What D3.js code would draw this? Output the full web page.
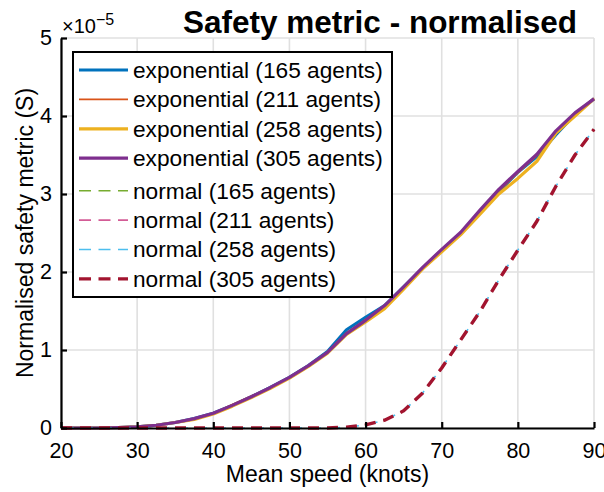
<!DOCTYPE html>
<html>
<head>
<meta charset="utf-8">
<script src="https://cdn.jsdelivr.net/npm/d3@7"></script>
<style>
  body { margin: 0; background: #fff; }
  text { font-family: "Liberation Sans", Arial, Helvetica, sans-serif; fill: #000; }
</style>
</head>
<body>
<div id="chart"></div>
<script>
const speeds = [20, 22.5, 25, 27.5, 30, 32.5, 35, 37.5, 40, 42.5, 45, 47.5, 50, 52.5, 55, 57.5, 60, 62.5, 65, 67.5, 70, 72.5, 75, 77.5, 80, 82.5, 85, 87.5, 90];

// values in units of 1e-5
const exp165 = [0, 0, 0, 0.005, 0.015, 0.035, 0.07, 0.12, 0.19, 0.29, 0.40, 0.52, 0.65, 0.80, 0.98, 1.26, 1.42, 1.57, 1.81, 2.05, 2.28, 2.49, 2.76, 3.03, 3.28, 3.48, 3.76, 4.02, 4.22];
const exp211 = [0, 0, 0, 0.005, 0.015, 0.035, 0.07, 0.12, 0.19, 0.30, 0.41, 0.52, 0.65, 0.80, 0.97, 1.22, 1.39, 1.56, 1.80, 2.05, 2.28, 2.50, 2.77, 3.04, 3.27, 3.49, 3.80, 4.03, 4.23];
const exp258 = [0, 0, 0, 0.005, 0.015, 0.035, 0.07, 0.11, 0.18, 0.28, 0.39, 0.51, 0.64, 0.79, 0.96, 1.20, 1.36, 1.53, 1.78, 2.04, 2.26, 2.48, 2.74, 3.00, 3.20, 3.42, 3.78, 4.00, 4.22];
const exp305 = [0, 0, 0, 0.005, 0.015, 0.035, 0.07, 0.12, 0.19, 0.29, 0.40, 0.52, 0.65, 0.80, 0.97, 1.21, 1.38, 1.57, 1.81, 2.06, 2.29, 2.51, 2.79, 3.06, 3.29, 3.51, 3.81, 4.04, 4.22];
const norm165 = [0, 0, 0, 0, 0, 0, 0, 0, 0, 0, 0, 0, 0, 0, 0, 0.01, 0.04, 0.10, 0.22, 0.45, 0.77, 1.13, 1.49, 1.90, 2.28, 2.65, 3.10, 3.50, 3.83];
const norm211 = [0, 0, 0, 0, 0, 0, 0, 0, 0, 0, 0, 0, 0, 0, 0, 0.01, 0.04, 0.10, 0.22, 0.45, 0.77, 1.13, 1.49, 1.90, 2.28, 2.65, 3.10, 3.50, 3.83];
const norm258 = [0, 0, 0, 0, 0, 0, 0, 0, 0, 0, 0, 0, 0, 0, 0, 0.01, 0.04, 0.10, 0.22, 0.45, 0.77, 1.13, 1.49, 1.90, 2.28, 2.65, 3.10, 3.50, 3.83];
const norm305 = [0, 0, 0, 0, 0, 0, 0, 0, 0, 0, 0, 0, 0, 0, 0, 0.01, 0.04, 0.10, 0.22, 0.45, 0.77, 1.13, 1.49, 1.90, 2.28, 2.65, 3.10, 3.50, 3.83];

const seriesNames = ["exponential (165 agents)", "exponential (211 agents)", "exponential (258 agents)", "exponential (305 agents)",
  "normal (165 agents)", "normal (211 agents)", "normal (258 agents)", "normal (305 agents)"];
const seriesValues = [exp165, exp211, exp258, exp305, norm165, norm211, norm258, norm305];
const colors = ["#0072BD", "#D95319", "#EDB120", "#7E2F8E", "#77AC30", "#D35C96", "#4DBEEE", "#A2142F"];
const widths = [3.2, 1.6, 3.2, 3.2, 1.6, 1.6, 1.6, 3.4];
const dashes = [null, null, null, null, "11,8", "11,8", "11,8", "11,8"];
const dashShift = [0, 0, 0, 0, 0, 0, -2, 0];

const xTicks = [20, 30, 40, 50, 60, 70, 80, 90];
const yTicks = [0, 1, 2, 3, 4, 5];

const width = 604, height = 492;
const margin = { top: 38, right: 10, bottom: 64, left: 61 };
const innerW = 594 - margin.left;
const innerH = 428 - margin.top;

const svg = d3.select("#chart").append("svg")
  .attr("width", width)
  .attr("height", height);

const g = svg.append("g").attr("transform", `translate(${margin.left},${margin.top})`);

const x = d3.scaleLinear().domain([20, 90]).range([0, innerW]);
const y = d3.scaleLinear().domain([0, 5]).range([innerH, 0]);

// grid
g.append("g").selectAll("line").data(xTicks).join("line")
  .attr("x1", d => x(d)).attr("x2", d => x(d))
  .attr("y1", 0).attr("y2", innerH)
  .attr("stroke", "#e0e0e0").attr("stroke-width", 1.6);
g.append("g").selectAll("line").data(yTicks).join("line")
  .attr("y1", d => y(d)).attr("y2", d => y(d))
  .attr("x1", 0).attr("x2", innerW)
  .attr("stroke", "#e0e0e0").attr("stroke-width", 1.6);

// lines
const line = d3.line().x((d, i) => x(speeds[i])).y(d => y(d));
const plot = g.append("g");
seriesValues.forEach((vals, i) => {
  plot.append("path")
    .attr("d", line(vals))
    .attr("fill", "none")
    .attr("stroke", colors[i])
    .attr("stroke-width", widths[i])
    .attr("stroke-linejoin", "round")
    .attr("stroke-linecap", "butt")
    .attr("stroke-dasharray", dashes[i])
    .attr("stroke-dashoffset", dashShift[i]);
});

// axes (inward ticks)
const xAxis = g.append("g").attr("transform", `translate(0,${innerH})`)
  .call(d3.axisBottom(x).tickValues(xTicks).tickFormat(d3.format("d"))
    .tickSizeInner(-6).tickSizeOuter(0).tickPadding(15));
const yAxis = g.append("g")
  .call(d3.axisLeft(y).tickValues(yTicks).tickFormat(d3.format("d"))
    .tickSizeInner(-6).tickSizeOuter(0).tickPadding(9));
[xAxis, yAxis].forEach(a => {
  a.select(".domain").attr("stroke", "#000").attr("stroke-width", 2.2);
  a.selectAll(".tick line").attr("stroke", "#000").attr("stroke-width", 2.2);
  a.selectAll(".tick text").style("font-size", "21.5px").attr("fill", "#000");
});
xAxis.selectAll(".tick text").attr("dy", "0.71em");

// exponent label
const expo = svg.append("text").attr("x", 62).attr("y", 33).style("font-size", "20px");
expo.append("tspan").text("\u00d710");
expo.append("tspan").attr("dy", -8).style("font-size", "16px").text("\u22125");

// title
svg.append("text")
  .attr("x", 380).attr("y", 33)
  .attr("text-anchor", "middle")
  .style("font-size", "31.5px").style("font-weight", "bold")
  .text("Safety metric - normalised");

// axis labels
svg.append("text")
  .attr("x", margin.left + innerW / 2).attr("y", 482)
  .attr("text-anchor", "middle")
  .style("font-size", "23px")
  .text("Mean speed (knots)");
svg.append("text")
  .attr("transform", `translate(33,${margin.top + innerH / 2}) rotate(-90)`)
  .attr("text-anchor", "middle")
  .style("font-size", "23px")
  .text("Normalised safety metric (S)");

// legend
const legend = svg.append("g");
legend.append("rect")
  .attr("x", 73).attr("y", 52).attr("width", 319).attr("height", 245)
  .attr("fill", "#fff").attr("stroke", "#000").attr("stroke-width", 2);
seriesNames.forEach((name, i) => {
  const ry = i < 4 ? 70 + i * 29.4 : 190.7 + (i - 4) * 29.4;
  legend.append("line")
    .attr("x1", 79).attr("x2", 128).attr("y1", ry).attr("y2", ry)
    .attr("stroke", colors[i])
    .attr("stroke-width", widths[i])
    .attr("stroke-dasharray", dashes[i] ? "12,7.5" : null);
  legend.append("text")
    .attr("x", 133).attr("y", ry)
    .attr("dy", "0.35em")
    .style("font-size", "22.7px")
    .text(name);
});
</script>
</body>
</html>
